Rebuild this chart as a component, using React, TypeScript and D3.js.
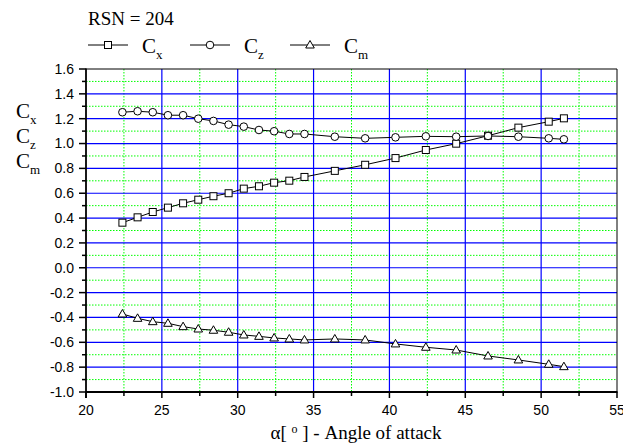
import * as d3 from "d3";
import React from "react";

// angle of attack [deg]
const alpha = [22.4, 23.4, 24.4, 25.4, 26.4, 27.4, 28.4, 29.4, 30.4, 31.4, 32.4, 33.4, 34.4, 36.4, 38.4, 40.4, 42.4, 44.4, 46.5, 48.5, 50.5, 51.5];
const cx = [0.363, 0.406, 0.449, 0.484, 0.519, 0.548, 0.576, 0.6, 0.637, 0.656, 0.685, 0.701, 0.731, 0.78, 0.829, 0.883, 0.948, 0.999, 1.063, 1.128, 1.176, 1.203];
const cz = [1.252, 1.26, 1.252, 1.228, 1.228, 1.2, 1.182, 1.152, 1.136, 1.109, 1.099, 1.077, 1.077, 1.055, 1.042, 1.05, 1.058, 1.055, 1.061, 1.055, 1.042, 1.034];
const cm = [-0.372, -0.407, -0.434, -0.447, -0.474, -0.493, -0.503, -0.519, -0.541, -0.552, -0.565, -0.573, -0.581, -0.573, -0.581, -0.613, -0.64, -0.662, -0.71, -0.742, -0.777, -0.796];

const xTicks = [20, 25, 30, 35, 40, 45, 50, 55];
const xMinor = [22.5, 27.5, 32.5, 37.5, 42.5, 47.5, 52.5];
const yTicks = [-1.0, -0.8, -0.6, -0.4, -0.2, 0.0, 0.2, 0.4, 0.6, 0.8, 1.0, 1.2, 1.4, 1.6];
const yMinor = [-0.9, -0.7, -0.5, -0.3, -0.1, 0.1, 0.3, 0.5, 0.7, 0.9, 1.1, 1.3, 1.5];

const L = 86, R = 617, T = 69, B = 392;

function Marker({ kind, x, y }: { kind: string; x: number; y: number }) {
  if (kind === "square")
    return <rect x={x - 3.5} y={y - 3.5} width={7} height={7} fill="#fff" stroke="#000" strokeWidth={1} />;
  if (kind === "circle") return <circle cx={x} cy={y} r={3.8} fill="#fff" stroke="#000" strokeWidth={1} />;
  return <path d={`M${x},${y - 4.5}L${x + 4.3},${y + 3}L${x - 4.3},${y + 3}Z`} fill="#fff" stroke="#000" strokeWidth={1} />;
}

export default function App() {
  const x = d3.scaleLinear().domain([20, 55]).range([L, R]);
  const y = d3.scaleLinear().domain([-1.0, 1.6]).range([B, T]);
  const line = d3.line<number>().x((_, i) => x(alpha[i])).y((d) => y(d));

  const series = [
    { name: "x", data: cx, kind: "square" },
    { name: "z", data: cz, kind: "circle" },
    { name: "m", data: cm, kind: "triangle" },
  ];
  const legendX = [88, 190, 290];
  const serif = "'Liberation Serif', 'Times New Roman', serif";
  const sans = "'Liberation Sans', Arial, sans-serif";

  return (
    <svg width={623} height={445} style={{ position: "absolute", left: 0, top: 0, background: "#fff" }}>
      {/* minor grid */}
      {yMinor.map((v) => (
        <line key={"ym" + v} x1={L} x2={R} y1={y(v)} y2={y(v)} stroke="#00ff00" strokeWidth={1} strokeDasharray="1.5,1.5" />
      ))}
      {xMinor.map((v) => (
        <line key={"xm" + v} x1={x(v)} x2={x(v)} y1={T} y2={B} stroke="#00ff00" strokeWidth={1} strokeDasharray="1.5,1.5" />
      ))}
      {/* major grid */}
      {yTicks.slice(1, -1).map((v) => (
        <line key={"yg" + v} x1={L} x2={R} y1={y(v)} y2={y(v)} stroke="#0000ff" strokeWidth={1.2} />
      ))}
      {xTicks.slice(1, -1).map((v) => (
        <line key={"xg" + v} x1={x(v)} x2={x(v)} y1={T} y2={B} stroke="#0000ff" strokeWidth={1.2} />
      ))}
      {/* frame */}
      <line x1={L} x2={R} y1={T} y2={T} stroke="#000" strokeWidth={1} />
      <line x1={R} x2={R} y1={T} y2={B} stroke="#000" strokeWidth={1} />
      <line x1={L} x2={R + 0.5} y1={B} y2={B} stroke="#000" strokeWidth={1.8} />
      <line x1={L} x2={L} y1={T - 0.5} y2={B + 6} stroke="#000" strokeWidth={1.8} />
      {/* ticks */}
      {yTicks.map((v) => (
        <g key={"yt" + v}>
          <line x1={L - 7} x2={L} y1={y(v)} y2={y(v)} stroke="#000" strokeWidth={1.5} />
          <text x={L - 12} y={y(v)} dy="0.35em" textAnchor="end" fontFamily={sans} fontSize={14}>
            {v.toFixed(1)}
          </text>
        </g>
      ))}
      {yMinor.map((v) => (
        <line key={"ymt" + v} x1={L - 4} x2={L} y1={y(v)} y2={y(v)} stroke="#000" strokeWidth={1.5} />
      ))}
      {xTicks.map((v) => (
        <g key={"xt" + v}>
          <line x1={x(v)} x2={x(v)} y1={B} y2={B + 6} stroke="#000" strokeWidth={1.5} />
          <text x={x(v)} y={B + 23} textAnchor="middle" fontFamily={sans} fontSize={14}>
            {v}
          </text>
        </g>
      ))}
      {xMinor.map((v) => (
        <line key={"xmt" + v} x1={x(v)} x2={x(v)} y1={B} y2={B + 4} stroke="#000" strokeWidth={1.5} />
      ))}
      {/* series */}
      {series.map((s) => (
        <g key={s.name}>
          <path d={line(s.data) ?? ""} fill="none" stroke="#000" strokeWidth={1} />
          {s.data.map((d, i) => (
            <Marker key={i} kind={s.kind} x={x(alpha[i])} y={y(d)} />
          ))}
        </g>
      ))}
      {/* title & legend */}
      <text x={88} y={25} fontFamily={serif} fontSize={19}>RSN = 204</text>
      {series.map((s, i) => (
        <g key={"lg" + s.name}>
          <line x1={legendX[i]} x2={legendX[i] + 40} y1={45} y2={45} stroke="#000" strokeWidth={1} />
          <Marker kind={s.kind} x={legendX[i] + 20} y={45} />
          <text x={legendX[i] + 54} y={53} fontFamily={serif} fontSize={21}>
            C<tspan dy={6} fontSize={13}>{s.name}</tspan>
          </text>
        </g>
      ))}
      {/* y label */}
      {series.map((s, i) => (
        <text key={"yl" + s.name} x={16} y={118 + i * 25} fontFamily={serif} fontSize={21}>
          C<tspan dy={6} fontSize={13}>{s.name}</tspan>
        </text>
      ))}
      {/* x label */}
      <text x={356} y={439} textAnchor="middle" fontFamily={serif} fontSize={19}>
        α[ <tspan dy={-6} fontSize={12}>o</tspan><tspan dy={6}> ] - Angle of attack</tspan>
      </text>
    </svg>
  );
}
